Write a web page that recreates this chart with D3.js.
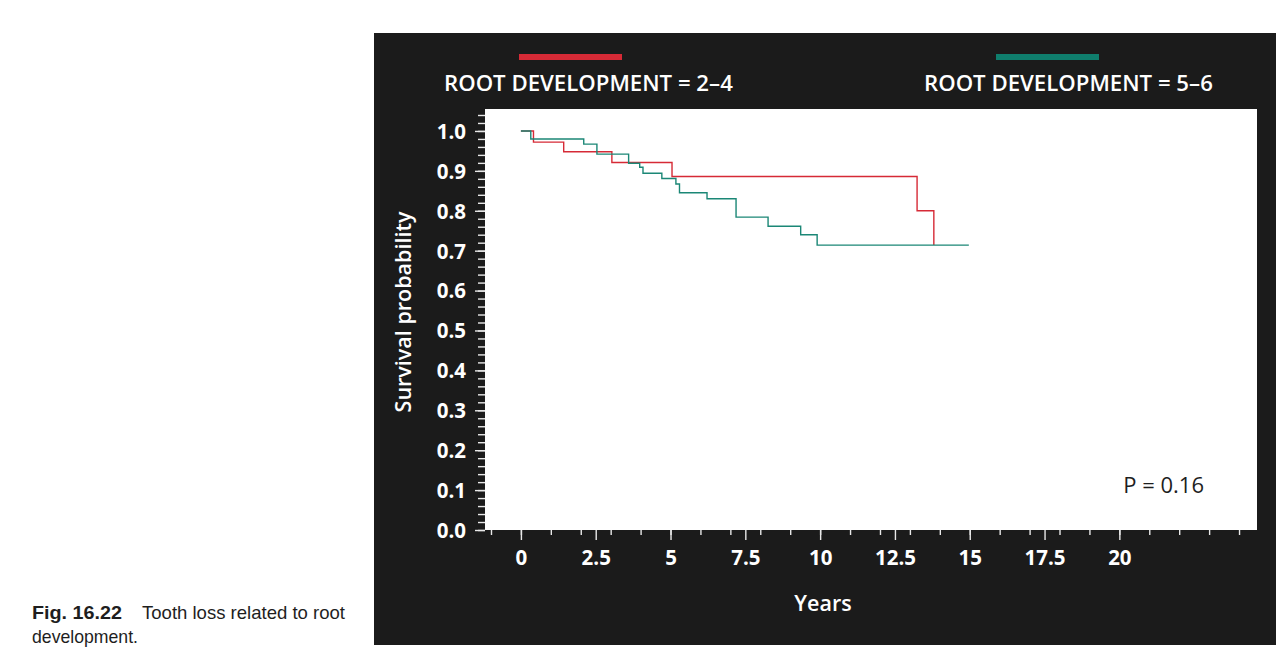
<!DOCTYPE html>
<html>
<head>
<meta charset="utf-8">
<script src="https://cdn.jsdelivr.net/npm/d3@7"></script>
<style>
  body { margin: 0; background: #ffffff; }
  svg { display: block; }
</style>
</head>
<body>
<div id="chart"></div>
<script>
// Kaplan-Meier steps (time in years, survival probability)
var redTimes = [0, 0.42, 1.43, 3.04, 5.05, 13.24, 13.8];
var redSurv = [1.0, 0.972, 0.948, 0.921, 0.886, 0.80, 0.714];

var tealTimes = [0, 0.33, 2.1, 2.54, 3.6, 3.97, 4.08, 4.71, 5.18, 5.3, 6.22, 7.19, 8.26, 9.35, 9.9, 14.97];
var tealSurv = [1.0, 0.98, 0.967, 0.942, 0.919, 0.909, 0.894, 0.881, 0.867, 0.845, 0.83, 0.784, 0.761, 0.740, 0.714, 0.714];

var seriesNames = ['ROOT DEVELOPMENT = 2\u20134', 'ROOT DEVELOPMENT = 5\u20136'];
var seriesColors = ['#d62a36', '#0f7e6d'];

var xTickLabels = [0, 2.5, 5, 7.5, 10, 12.5, 15, 17.5, 20];
var yTickLabels = [0, 0.1, 0.2, 0.3, 0.4, 0.5, 0.6, 0.7, 0.8, 0.9, 1.0];

var pValueText = 'P = 0.16';
var captionBold = 'Fig. 16.22';
var captionLine1 = 'Tooth loss related to root';
var captionLine2 = 'development.';

var totalWidth = 1280, totalHeight = 672;
var plot = { left: 485, top: 109, right: 1257, bottom: 530 };

var svg = d3.select('#chart').append('svg')
    .attr('width', totalWidth)
    .attr('height', totalHeight);

// dark panel
svg.append('rect')
    .attr('x', 374).attr('y', 33)
    .attr('width', 902).attr('height', 612)
    .attr('fill', '#1b1b1b');

var xScale = d3.scaleLinear().domain([-1.2, 24.6]).range([plot.left, plot.right]);
var yScale = d3.scaleLinear().domain([0, 1.055]).range([plot.bottom, plot.top]);

// white plotting area
svg.append('rect')
    .attr('x', plot.left).attr('y', plot.top)
    .attr('width', plot.right - plot.left)
    .attr('height', plot.bottom - plot.top)
    .attr('fill', '#ffffff');

var font = "'Open Sans', 'Noto Sans', sans-serif";

// x axis: minor ticks every year, tall labelled ticks every 2.5
var xMinor = d3.range(-1, 25, 1);
var xMinorAxis = d3.axisBottom(xScale).tickValues(xMinor).tickSize(5).tickFormat('');
var xMinorGroup = svg.append('g').attr('transform', 'translate(0,' + plot.bottom + ')').call(xMinorAxis);

var xAxis = d3.axisBottom(xScale).tickValues(xTickLabels).tickSize(10).tickPadding(10)
    .tickFormat(function(d) { return d; });
var xAxisGroup = svg.append('g').attr('transform', 'translate(0,' + plot.bottom + ')').call(xAxis);

// y axis: minor ticks every 0.02, labelled every 0.1
var yMinor = d3.range(0, 52.5, 1).map(function(i) { return i * 0.02; });
var yMinorAxis = d3.axisLeft(yScale).tickValues(yMinor).tickSize(7).tickFormat('');
var yMinorGroup = svg.append('g').attr('transform', 'translate(' + plot.left + ',0)').call(yMinorAxis);

var yAxis = d3.axisLeft(yScale).tickValues(yTickLabels).tickSize(10).tickPadding(9)
    .tickFormat(d3.format('.1f'));
var yAxisGroup = svg.append('g').attr('transform', 'translate(' + plot.left + ',0)').call(yAxis);

[xMinorGroup, xAxisGroup, yMinorGroup, yAxisGroup].forEach(function(g) {
    g.selectAll('.domain').remove();
    g.selectAll('line').attr('stroke', '#e8e8e8').attr('stroke-width', 1.4);
    g.selectAll('text')
        .attr('fill', '#ffffff')
        .attr('font-family', font)
        .attr('font-weight', 700)
        .attr('font-size', 20.5);
});
yAxisGroup.selectAll('text').attr('dy', '0.36em');

// survival curves
var line = d3.line()
    .x(function(d) { return xScale(d[0]); })
    .y(function(d) { return yScale(d[1]); })
    .curve(d3.curveStepAfter);

var redData = redTimes.map(function(t, i) { return [t, redSurv[i]]; });
var tealData = tealTimes.map(function(t, i) { return [t, tealSurv[i]]; });

svg.append('path').datum(redData)
    .attr('d', line)
    .attr('fill', 'none')
    .attr('stroke', seriesColors[0])
    .attr('stroke-width', 1.4);

svg.append('path').datum(tealData)
    .attr('d', line)
    .attr('fill', 'none')
    .attr('stroke', '#1b8776')
    .attr('stroke-width', 1.4);

// legend
var legendX = [{ line: 519, text: 444 }, { line: 996, text: 924 }];
seriesNames.forEach(function(name, i) {
    svg.append('rect')
        .attr('x', legendX[i].line).attr('y', 54)
        .attr('width', 103).attr('height', 6)
        .attr('fill', seriesColors[i]);
    svg.append('text')
        .attr('x', legendX[i].text).attr('y', 91)
        .attr('fill', '#ffffff')
        .attr('font-family', font)
        .attr('font-weight', 600)
        .attr('font-size', 22.2)
        .text(name);
});

// axis titles
svg.append('text')
    .attr('transform', 'translate(411,312) rotate(-90)')
    .attr('text-anchor', 'middle')
    .attr('fill', '#ffffff')
    .attr('font-family', font)
    .attr('font-weight', 600)
    .attr('font-size', 21.5)
    .text('Survival probability');

svg.append('text')
    .attr('x', 823).attr('y', 611)
    .attr('text-anchor', 'middle')
    .attr('fill', '#ffffff')
    .attr('font-family', font)
    .attr('font-weight', 600)
    .attr('font-size', 21.5)
    .text('Years');

// p value
svg.append('text')
    .attr('x', 1204).attr('y', 493)
    .attr('text-anchor', 'end')
    .attr('fill', '#1e1e1e')
    .attr('font-family', font)
    .attr('font-weight', 500)
    .attr('font-size', 22)
    .text(pValueText);

// caption (condensed face, squeezed to the printed widths)
var capFont = "'Liberation Sans', Arial, sans-serif";
svg.append('text')
    .attr('x', 32).attr('y', 619)
    .attr('fill', '#1e1e1e')
    .attr('font-family', capFont)
    .attr('font-weight', 700)
    .attr('font-size', 18.5)
    .attr('textLength', 90)
    .attr('lengthAdjust', 'spacingAndGlyphs')
    .text(captionBold);

svg.append('text')
    .attr('x', 142).attr('y', 619)
    .attr('fill', '#1e1e1e')
    .attr('font-family', capFont)
    .attr('font-size', 18.5)
    .attr('textLength', 203)
    .attr('lengthAdjust', 'spacingAndGlyphs')
    .text(captionLine1);

svg.append('text')
    .attr('x', 32).attr('y', 643)
    .attr('fill', '#1e1e1e')
    .attr('font-family', capFont)
    .attr('font-size', 18.5)
    .attr('textLength', 106)
    .attr('lengthAdjust', 'spacingAndGlyphs')
    .text(captionLine2);
</script>
</body>
</html>
